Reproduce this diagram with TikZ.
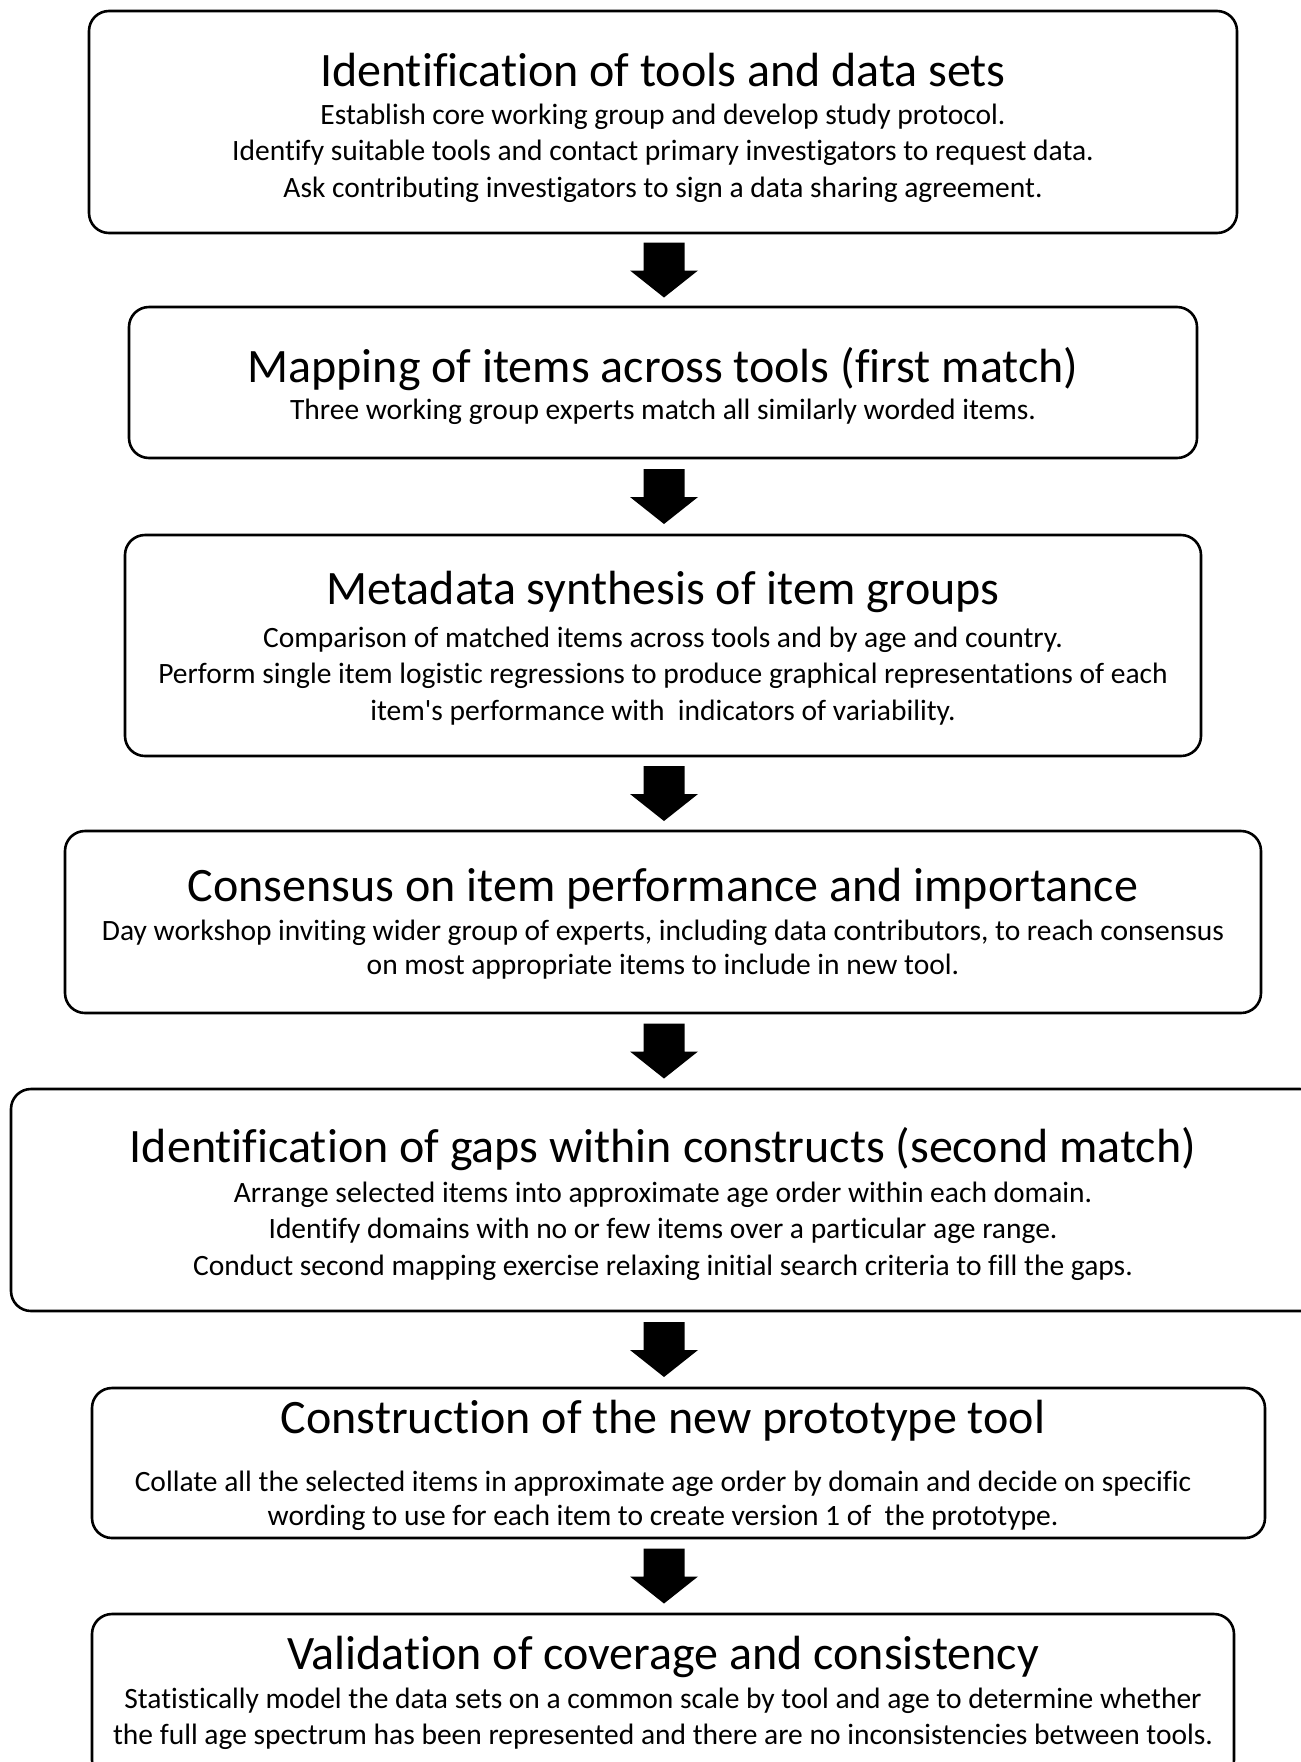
\documentclass[tikz,border=0pt]{standalone}
\usepackage{fontspec}
\setmainfont{Carlito}[Ligatures=NoCommon]
\usetikzlibrary{calc}
\begin{document}
\begin{tikzpicture}[x=1pt,y=-1pt,
  stage/.style={draw=black, line width=2.6pt, rounded corners=20pt, inner sep=0pt, minimum width=#1},
  ttl/.style={font=\fontsize{48}{56}\selectfont, inner sep=0pt},
  body/.style={font=\fontsize{29.5}{36.5}\selectfont, align=center, inner sep=0pt},
  bodyt/.style={font=\fontsize{29.5}{34}\selectfont, align=center, inner sep=0pt}]
\useasboundingbox (0,0) rectangle (1301,1762);
\clip (0,0) rectangle (1301,1762);
\fill[white] (0,0) rectangle (1301,1762);
\newcommand\blockarrow[1]{\fill[black] (#1) ++(-20.5,-27.5) -- ++(41,0) -- ++(0,28) -- ++(13.5,0) -- ++(-34,27) -- ++(-34,-27) -- ++(13.5,0) -- cycle;}

% boxes
\node[stage=1148pt, minimum height=222pt] (b1) at (663,122) {};
\node[stage=1068pt, minimum height=151pt] (b2) at (663,382.5) {};
\node[stage=1076pt, minimum height=221pt] (b3) at (663,645.5) {};
\node[stage=1196pt, minimum height=182pt] (b4) at (663,922) {};
\node[stage=1309pt, minimum height=222pt] (b5) at (665.5,1200) {};
\node[stage=1173pt, minimum height=150pt] (b6) at (678.5,1463) {};
\node[stage=1142pt, minimum height=166pt] (b7) at (663,1697) {};

% texts
\node[ttl] (t1) at (663,70) {Identification of tools and data sets};
\node[body] (d1) at (663,153) {Establish core working group and develop study protocol.\\Identify suitable tools and contact primary investigators to request data.\\Ask contributing investigators to sign a data sharing agreement.};

\node[ttl] (t2) at (663,369) {Mapping of items across tools (first match)};
\node[body] (d2) at (663,412) {Three working group experts match all similarly worded items.};

\node[ttl] (t3) at (663,592) {Metadata synthesis of item groups};
\node[body] (d3) at (663,676) {Comparison of matched items across tools and by age and country.\\Perform single item logistic regressions to produce graphical representations of each\\item\textquotesingle s performance with\ \ indicators of variability.};

\node[ttl] (t4) at (663,889) {Consensus on item performance and importance};
\node[bodyt] (d4) at (663,950) {Day workshop inviting wider group of experts, including data contributors, to reach consensus\\on most appropriate items to include in new tool.};

\node[ttl] (t5) at (663,1149) {Identification of gaps within constructs (second match)};
\node[body] (d5) at (663,1231) {Arrange selected items into approximate age order within each domain.\\Identify domains with no or few items over a particular age range.\\Conduct second mapping exercise relaxing initial search criteria to fill the gaps.};

\node[ttl] (t6) at (663,1421) {Construction of the new prototype tool};
\node[bodyt] (d6) at (663,1501) {Collate all the selected items in approximate age order by domain and decide on specific\\wording to use for each item to create version 1 of\ \ the prototype.};

\node[ttl] (t7) at (663,1657) {Validation of coverage and consistency};
\node[body] (d7) at (663,1719) {Statistically model the data sets on a common scale by tool and age to determine whether\\the full age spectrum has been represented and there are no inconsistencies between tools.};

% block arrows between boxes
\coordinate (ax) at (664,0);
\coordinate (m1) at ($(b1.south)!0.5!(b2.north)$);
\coordinate (m2) at ($(b2.south)!0.5!(b3.north)$);
\coordinate (m3) at ($(b3.south)!0.5!(b4.north)$);
\coordinate (m4) at ($(b4.south)!0.5!(b5.north)$);
\coordinate (m5) at ($(b5.south)!0.5!(b6.north)$);
\coordinate (m6) at ($(b6.south)!0.5!(b7.north)$);
\coordinate (a1) at (ax |- m1);
\coordinate (a2) at (ax |- m2);
\coordinate (a3) at (ax |- m3);
\coordinate (a4) at (ax |- m4);
\coordinate (a5) at (ax |- m5);
\coordinate (a6) at (ax |- m6);
\blockarrow{a1}
\blockarrow{a2}
\blockarrow{a3}
\blockarrow{a4}
\blockarrow{a5}
\blockarrow{a6}
\end{tikzpicture}
\end{document}
